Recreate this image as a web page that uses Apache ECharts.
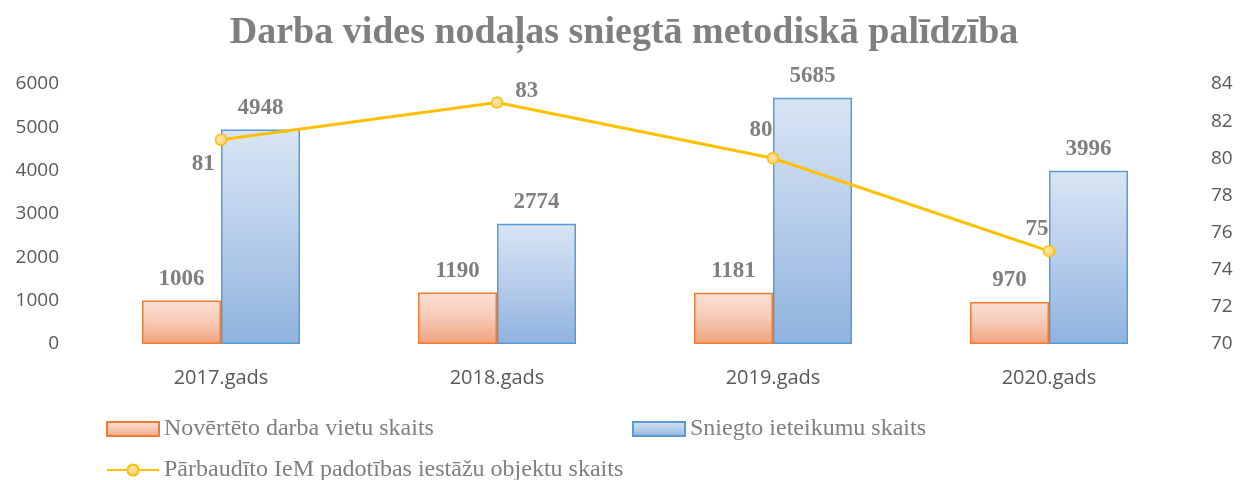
<!DOCTYPE html>
<html><head><meta charset="utf-8">
<script src="https://cdn.jsdelivr.net/npm/echarts@6/dist/echarts.min.js"></script>
<style>html,body{margin:0;padding:0;background:#fff}#c{width:1248px;height:480px}</style>
</head><body><div id="c"></div>
<script>
const categories = ['2017.gads', '2018.gads', '2019.gads', '2020.gads'];
const evaluated = [1006, 1190, 1181, 970];
const advice = [4948, 2774, 5685, 3996];
const inspected = [81, 83, 80, 75];
const leftTicks = [0, 6000, 1000];
const rightTicks = [70, 84, 2];
const names = ['Novērtēto darba vietu skaits', 'Sniegto ieteikumu skaits', 'Pārbaudīto IeM padotības iestāžu objektu skaits'];
const linePos = ['left', 'right', 'top', 'top'];
const lineOffs = [[6, 24], [6, -12], [-12, -4], [-12, 2]];

const serif = '"Liberation Serif","DejaVu Serif",serif';
const sans = '"Open Sans","Liberation Sans",sans-serif';
const gray = '#7f7f7f';
const lbl = {show: true, position: 'top', fontFamily: serif, fontWeight: 'bold', fontSize: 23, color: '#7f7f7f', distance: 10};
const axisLbl = {fontFamily: sans, fontSize: 19, color: '#595959', margin: 24};
const legText = {fontFamily: serif, fontSize: 24, color: gray};

const chart = echarts.init(document.getElementById('c'));
chart.setOption({
  animation: false,
  title: {text: 'Darba vides nodaļas sniegtā metodiskā palīdzība', left: 'center', top: 9,
    textStyle: {fontFamily: serif, fontWeight: 'bold', fontSize: 38, color: gray}},
  grid: {left: 83, right: 61, top: 84, bottom: 136},
  legend: [
    {data: [{name: names[0], icon: 'rect'}], left: 106, top: 417, itemWidth: 52, itemHeight: 14, padding: 0,
      textStyle: legText},
    {data: [{name: names[1], icon: 'rect'}], left: 632, top: 417, itemWidth: 52, itemHeight: 14, padding: 0,
      textStyle: legText},
    {data: [names[2]], left: 106, top: 458, itemWidth: 52, itemHeight: 14, padding: 0,
      textStyle: legText}
  ],
  xAxis: {type: 'category', data: categories, axisLine: {show: false}, axisTick: {show: false},
    axisLabel: Object.assign({}, axisLbl, {fontSize: 20})},
  yAxis: [
    {type: 'value', min: leftTicks[0], max: leftTicks[1], interval: leftTicks[2], splitLine: {show: false},
      axisLabel: Object.assign({}, axisLbl, {formatter: v => String(v)})},
    {type: 'value', min: rightTicks[0], max: rightTicks[1], interval: rightTicks[2], splitLine: {show: false},
      axisLabel: axisLbl}
  ],
  series: [
    {name: names[0], type: 'bar', data: evaluated, barWidth: 79, barGap: '0%',
      itemStyle: {borderColor: '#ed7d31', borderWidth: 1.5,
        color: new echarts.graphic.LinearGradient(0, 0, 0, 1, [{offset: 0, color: '#fbe0d6'}, {offset: 0.5, color: '#f7c9b5'}, {offset: 1, color: '#f0a27c'}])},
      label: lbl},
    {name: names[1], type: 'bar', data: advice, barWidth: 79,
      itemStyle: {borderColor: '#5b9bd5', borderWidth: 1.5,
        color: new echarts.graphic.LinearGradient(0, 0, 0, 1, [{offset: 0, color: '#d9e5f4'}, {offset: 0.5, color: '#b6cdea'}, {offset: 1, color: '#8fb2de'}])},
      label: lbl},
    {name: names[2], type: 'line', yAxisIndex: 1, data: inspected.map((v, i) => ({value: v,
        label: {position: linePos[i], offset: lineOffs[i]}})),
      symbol: 'circle', symbolSize: 11, lineStyle: {color: '#ffc000', width: 3},
      itemStyle: {color: new echarts.graphic.RadialGradient(0.4, 0.4, 0.7, [{offset: 0, color: '#ffe6b0'}, {offset: 1, color: '#ffc762'}]), borderColor: '#ffc000', borderWidth: 1.5},
      label: Object.assign({}, lbl, {distance: 6}), z: 5}
  ]
});
</script></body></html>
